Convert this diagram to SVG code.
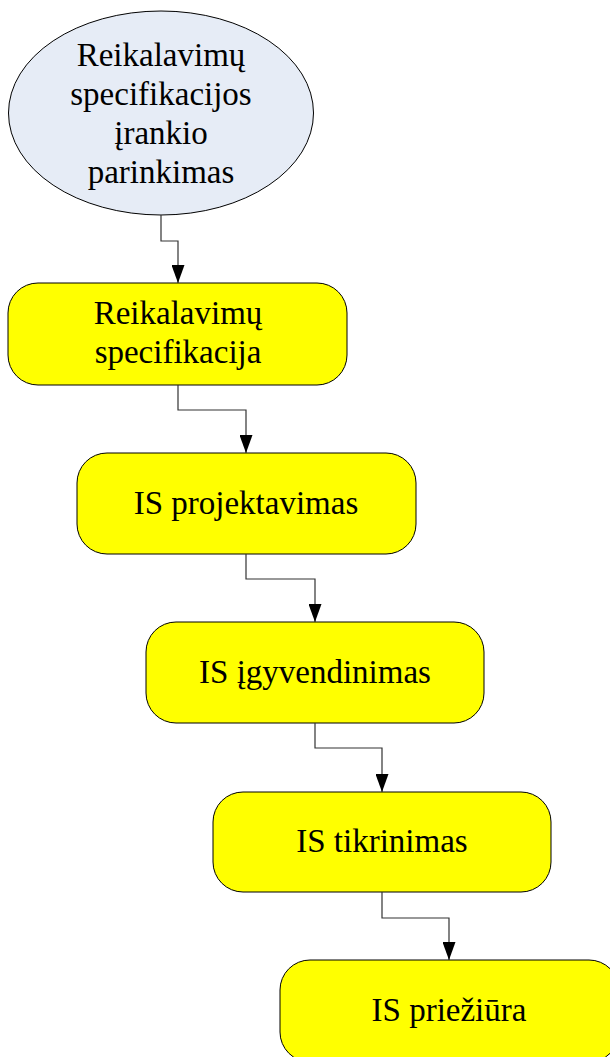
<svg xmlns="http://www.w3.org/2000/svg" width="610" height="1057" viewBox="0 0 610 1057">
<style>
.node{fill:#FFFF00;stroke:#000;stroke-width:1}
.start{fill:#E6ECF6;stroke:#000;stroke-width:1}
.lbl{font-family:"Liberation Serif","Times New Roman",serif;font-size:33px;fill:#000;text-anchor:middle}
.conn{fill:none;stroke:#333;stroke-width:1.2;marker-end:url(#arr)}
</style>
<defs>
<marker id="arr" viewBox="0 0 18 13" refX="18" refY="6.5" markerWidth="18" markerHeight="13" markerUnits="userSpaceOnUse" orient="auto">
<path d="M0,0 L18,6.5 L0,13 z" fill="#000"/>
</marker>
</defs>
<rect width="610" height="1057" fill="#fff"/>
<g id="n0">
<ellipse class="start" cx="161" cy="113" rx="152.5" ry="102"/>
<text class="lbl" x="161" y="66">Reikalavimų</text>
<text class="lbl" x="161" y="105">specifikacijos</text>
<text class="lbl" x="161" y="144">įrankio</text>
<text class="lbl" x="161" y="183">parinkimas</text>
</g>
<g id="n1">
<rect class="node" x="8" y="283" width="339" height="102" rx="30" ry="30"/>
<text class="lbl" x="178" y="324">Reikalavimų</text>
<text class="lbl" x="178" y="363">specifikacija</text>
</g>
<g id="n2">
<rect class="node" x="77" y="453" width="339" height="101" rx="30" ry="30"/>
<text class="lbl" x="246" y="514">IS projektavimas</text>
</g>
<g id="n3">
<rect class="node" x="146" y="622" width="338" height="101" rx="30" ry="30"/>
<text class="lbl" x="315" y="683">IS įgyvendinimas</text>
</g>
<g id="n4">
<rect class="node" x="213" y="792" width="338" height="100" rx="30" ry="30"/>
<text class="lbl" x="382" y="852">IS tikrinimas</text>
</g>
<g id="n5">
<rect class="node" x="280" y="960" width="339" height="102" rx="30" ry="30"/>
<text class="lbl" x="449" y="1021">IS priežiūra</text>
</g>
<g id="connectors">
<path class="conn" d="M161,215 V241 H178 V283"/>
<path class="conn" d="M178,385 V410 H246 V453"/>
<path class="conn" d="M246,554 V579 H315 V622"/>
<path class="conn" d="M315,723 V748 H382 V792"/>
<path class="conn" d="M382,892 V918 H449 V960"/>
</g>
</svg>
